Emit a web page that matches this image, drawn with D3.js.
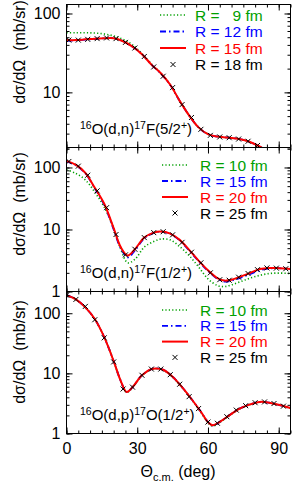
<!DOCTYPE html>
<html>
<head>
<meta charset="utf-8">
<script src="https://cdn.jsdelivr.net/npm/d3@7"></script>
<style>
  body { margin: 0; background: #fff; }
  text { font-family: "Liberation Sans", Arial, sans-serif; }
</style>
</head>
<body>
<script>
// ---- data ----
// 16O(d,n)17F(5/2+)
const theta1 = [0, 4, 8, 12, 16, 20, 24, 28, 32, 36, 40, 44, 48, 52, 56, 60, 64, 68, 72, 76, 80, 84, 88, 92, 95];
const f52R9 = [57, 57, 57, 56.5, 55, 52, 47, 40, 31, 23, 17.5, 12.5, 7.8, 5.1, 3.6, 2.95, 2.75, 2.68, 2.6, 2.45, 2.2, 1.9, 1.6, 1.4, 1.3];
const f52R12 = [45, 45.5, 46.5, 47.5, 48.5, 48.5, 44.5, 38, 30.5, 22.5, 17.3, 12.4, 7.8, 5.1, 3.6, 2.95, 2.75, 2.68, 2.6, 2.45, 2.2, 1.9, 1.6, 1.4, 1.3];
const f52R15 = [46, 46, 47, 48, 48.5, 48.5, 44.5, 38, 30.5, 22.5, 17.5, 12.5, 7.8, 5.1, 3.6, 2.95, 2.75, 2.68, 2.6, 2.45, 2.2, 1.9, 1.6, 1.4, 1.3];
const thetaM1 = [1, 5, 9, 13, 17, 21, 25, 29, 33, 37, 41, 45, 49, 53, 57, 61, 65, 69, 73, 77, 81];
const f52R18 = [46, 46, 47, 48, 49, 48, 43, 36.5, 28.5, 21, 16, 11.5, 7, 4.8, 3.4, 2.85, 2.72, 2.66, 2.56, 2.4, 2.12];

// 16O(d,n)17F(1/2+)
const theta2 = [0, 4, 8, 12, 16, 20, 23, 26, 29, 33, 37, 40, 44, 48, 52, 56, 60, 64, 67, 70, 74, 78, 82, 86, 90, 95];
const f12R10 = [92, 80, 63, 40, 23, 10.5, 4.8, 2.9, 3.3, 5.2, 6.4, 7.0, 6.8, 5.3, 3.8, 2.5, 1.6, 1.25, 1.2, 1.28, 1.45, 1.65, 1.82, 1.95, 1.98, 1.95];
const f12R15 = [125, 108, 80, 46, 25, 10, 5.0, 3.55, 4.6, 7.2, 8.8, 9.2, 8.5, 6.7, 4.6, 3.1, 2.15, 1.6, 1.45, 1.5, 1.68, 1.92, 2.2, 2.35, 2.38, 2.3];
const f12R20 = [128, 110, 82, 47, 26, 10.5, 5.2, 3.8, 4.8, 7.4, 8.9, 9.3, 8.6, 6.8, 4.7, 3.15, 2.2, 1.65, 1.5, 1.55, 1.75, 2.0, 2.3, 2.4, 2.38, 2.3];
const thetaM2 = [1, 5, 9, 13, 17, 21, 25, 29, 33, 37, 41, 45, 49, 53, 57, 61, 65, 69, 73, 77, 81, 85, 89, 93];
const f12R25 = [125, 105, 75, 42, 22.5, 8.3, 3.9, 4.8, 7.4, 8.9, 9.2, 8.2, 6.2, 4.3, 2.9, 2.0, 1.55, 1.52, 1.7, 1.95, 2.25, 2.4, 2.38, 2.33];

// 16O(d,p)17O(1/2+)
const theta3 = [0, 4, 8, 12, 16, 20, 23, 25.5, 28, 32, 36, 38, 41, 45, 49, 53, 57, 60, 62, 65, 69, 73, 77, 82, 86, 90, 95];
const o12R10 = [198, 168, 124, 79, 40, 16, 7.4, 4.85, 5.8, 9.2, 11.7, 12.0, 11.4, 8.7, 5.8, 3.7, 2.25, 1.5, 1.33, 1.52, 1.97, 2.52, 2.95, 3.33, 3.23, 2.98, 2.63];
const o12R15 = [200, 170, 125, 80, 40, 16, 7.5, 4.9, 5.9, 9.3, 11.8, 12.1, 11.5, 8.8, 5.9, 3.75, 2.3, 1.55, 1.36, 1.56, 2.0, 2.55, 2.97, 3.35, 3.25, 3.0, 2.65];
const o12R20 = [200, 170, 125, 80, 40, 16, 7.5, 4.9, 5.9, 9.3, 11.8, 12.1, 11.5, 8.8, 5.9, 3.75, 2.3, 1.55, 1.37, 1.56, 2.0, 2.55, 2.97, 3.35, 3.25, 3.0, 2.65];
const thetaM3 = [0, 4, 8, 12, 16, 20, 24, 28, 32, 36, 40, 44, 48, 52, 56, 60, 64, 68, 72, 76, 80, 84, 88, 92];
const o12R25 = [200, 170, 130, 78, 39, 15.5, 5.5, 5.9, 9.3, 11.8, 11.8, 9.5, 6.6, 4.1, 2.6, 1.55, 1.48, 1.9, 2.45, 2.9, 3.25, 3.35, 3.15, 2.85];

const xTickLabels = [0, 30, 60, 90];
const legend1 = ["R =   9 fm", "R = 12 fm", "R = 15 fm", "R = 18 fm"];
const legend23 = ["R = 10 fm", "R = 15 fm", "R = 20 fm", "R = 25 fm"];

// ---- layout ----
const W = 295, H = 484;
const left = 66.5, right = 290.5;
const colors = ["#00a000", "#0000ff", "#ff0000", "#000000"];

const panels = [
  {
    top: 4.5, bottom: 147.5, domain: [2, 130], labels: [10, 100],
    theta: theta1, series: [f52R9, f52R12, f52R15], mTheta: thetaM1, marks: f52R18,
    legend: legend1, legX: 160, txtX: 195, legY: 15, legDy: 16.5,
    note: ["16", "O(d,n)", "17", "F(5/2", "+", ")"], noteY: 133.5, labelY: 52
  },
  {
    top: 147.5, bottom: 291.5, domain: [1, 210], labels: [1, 10, 100],
    theta: theta2, series: [f12R10, f12R15, f12R20], mTheta: thetaM2, marks: f12R25,
    legend: legend23, legX: 162, txtX: 200, legY: 165, legDy: 16,
    note: ["16", "O(d,n)", "17", "F(1/2", "+", ")"], noteY: 277.5, labelY: 204
  },
  {
    top: 291.5, bottom: 433.5, domain: [1, 230], labels: [1, 10, 100],
    theta: theta3, series: [o12R10, o12R15, o12R20], mTheta: thetaM3, marks: o12R25,
    legend: legend23, legX: 162, txtX: 200, legY: 310, legDy: 15.8,
    note: ["16", "O(d,p)", "17", "O(1/2", "+", ")"], noteY: 420, labelY: 352
  }
];

const svg = d3.select("body").append("svg")
  .attr("width", W).attr("height", H);

const x = d3.scaleLinear().domain([0, 95]).range([left, right]);

const lineStyles = [
  { width: 1.6, dash: "1.2,2.2" },
  { width: 1.8, dash: "6,3,1.5,3" },
  { width: 2, dash: null }
];

function cross(g, cx, cy) {
  const s = 2.5;
  g.append("path")
    .attr("d", `M${cx - s},${cy - s}L${cx + s},${cy + s}M${cx - s},${cy + s}L${cx + s},${cy - s}`)
    .attr("stroke", "#000").attr("stroke-width", 1).attr("fill", "none");
}

panels.forEach((p, i) => {
  const y = d3.scaleLog().domain(p.domain).range([p.bottom, p.top]);
  const g = svg.append("g");

  const clipId = "clip" + i;
  svg.append("clipPath").attr("id", clipId)
    .append("rect").attr("x", left).attr("y", p.top)
    .attr("width", right - left).attr("height", p.bottom - p.top);

  const plot = g.append("g").attr("clip-path", `url(#${clipId})`);
  const line = d3.line()
    .x((d) => x(d[0])).y((d) => y(d[1]))
    .curve(d3.curveCatmullRom.alpha(0.5));

  p.series.forEach((vals, k) => {
    const st = lineStyles[k];
    plot.append("path")
      .datum(p.theta.map((t, j) => [t, vals[j]]))
      .attr("d", line)
      .attr("fill", "none")
      .attr("stroke", colors[k])
      .attr("stroke-width", st.width)
      .attr("stroke-dasharray", st.dash);
  });
  p.mTheta.forEach((t, j) => cross(plot, x(t), y(p.marks[j])));

  // ticks (inward, all four sides)
  const decades = d3.range(Math.floor(Math.log10(p.domain[0])), Math.ceil(Math.log10(p.domain[1])) + 1);
  const yMinor = [];
  decades.forEach((d) => {
    for (let m = 1; m < 10; m++) {
      const v = m * Math.pow(10, d);
      if (v >= p.domain[0] && v <= p.domain[1]) yMinor.push(v);
    }
  });
  const yMajor = yMinor.filter((v) => Math.abs(Math.log10(v) - Math.round(Math.log10(v))) < 1e-9);

  g.append("g").attr("transform", `translate(${left},0)`)
    .call(d3.axisLeft(y).tickValues(yMinor).tickSize(-3).tickFormat(""));
  g.append("g").attr("transform", `translate(${left},0)`)
    .call(d3.axisLeft(y).tickValues(yMajor).tickSize(-6).tickPadding(6)
      .tickFormat((d) => (p.labels.includes(d) ? d : "")));
  g.append("g").attr("transform", `translate(${right},0)`)
    .call(d3.axisRight(y).tickValues(yMinor).tickSize(-3).tickFormat(""));
  g.append("g").attr("transform", `translate(${right},0)`)
    .call(d3.axisRight(y).tickValues(yMajor).tickSize(-6).tickFormat(""));

  const xMinor = d3.range(0, 96, 5);
  const xMajor = [0, 30, 60, 90];
  g.append("g").attr("transform", `translate(0,${p.bottom})`)
    .call(d3.axisBottom(x).tickValues(xMinor).tickSize(-3).tickFormat(""));
  g.append("g").attr("transform", `translate(0,${p.bottom})`)
    .call(d3.axisBottom(x).tickValues(xMajor).tickSize(-6).tickPadding(9)
      .tickFormat((d) => (i === panels.length - 1 && xTickLabels.includes(d) ? d : "")));
  g.append("g").attr("transform", `translate(0,${p.top})`)
    .call(d3.axisTop(x).tickValues(xMinor).tickSize(-3).tickFormat(""));
  g.append("g").attr("transform", `translate(0,${p.top})`)
    .call(d3.axisTop(x).tickValues(xMajor).tickSize(-6).tickFormat(""));

  g.selectAll(".domain").remove();
  g.selectAll(".tick line").attr("stroke", "#000");
  g.selectAll(".tick text").attr("fill", "#000").attr("font-size", 16)
    .attr("font-family", "'Liberation Sans', Arial, sans-serif");

  g.append("rect")
    .attr("x", left).attr("y", p.top)
    .attr("width", right - left).attr("height", p.bottom - p.top)
    .attr("fill", "none").attr("stroke", "#000").attr("stroke-width", 1);

  // y label
  svg.append("text")
    .attr("transform", `translate(25,${p.labelY}) rotate(-90)`)
    .attr("text-anchor", "middle")
    .attr("font-size", 16)
    .attr("xml:space", "preserve")
    .text("dσ/dΩ  (mb/sr)");

  // reaction label
  const note = svg.append("text").attr("x", 80).attr("y", p.noteY).attr("font-size", 15);
  p.note.forEach((s, k) => {
    const sup = k === 0 || k === 2 || k === 4;
    note.append("tspan")
      .attr("font-size", sup ? 10.5 : 15)
      .attr("baseline-shift", sup ? "45%" : null)
      .text(s);
  });

  // legend
  p.legend.forEach((lab, k) => {
    const ly = p.legY + k * p.legDy;
    if (k < 3) {
      const st = lineStyles[k];
      svg.append("line")
        .attr("x1", p.legX).attr("x2", p.legX + 26)
        .attr("y1", ly).attr("y2", ly)
        .attr("stroke", colors[k]).attr("stroke-width", st.width)
        .attr("stroke-dasharray", st.dash);
    } else {
      cross(svg, p.legX + 13, ly);
    }
    svg.append("text")
      .attr("x", p.txtX).attr("y", ly + 5.5)
      .attr("font-size", 15.5)
      .attr("fill", colors[k])
      .style("white-space", "pre")
      .text(lab);
  });
});

// x title
const xt = svg.append("text")
  .attr("x", 178).attr("y", 477)
  .attr("text-anchor", "middle")
  .attr("font-size", 16);
xt.append("tspan").text("Θ");
xt.append("tspan").attr("font-size", 11).attr("dy", 4).text("c.m.");
xt.append("tspan").attr("dy", -4).text(" (deg)");
</script>
</body>
</html>
